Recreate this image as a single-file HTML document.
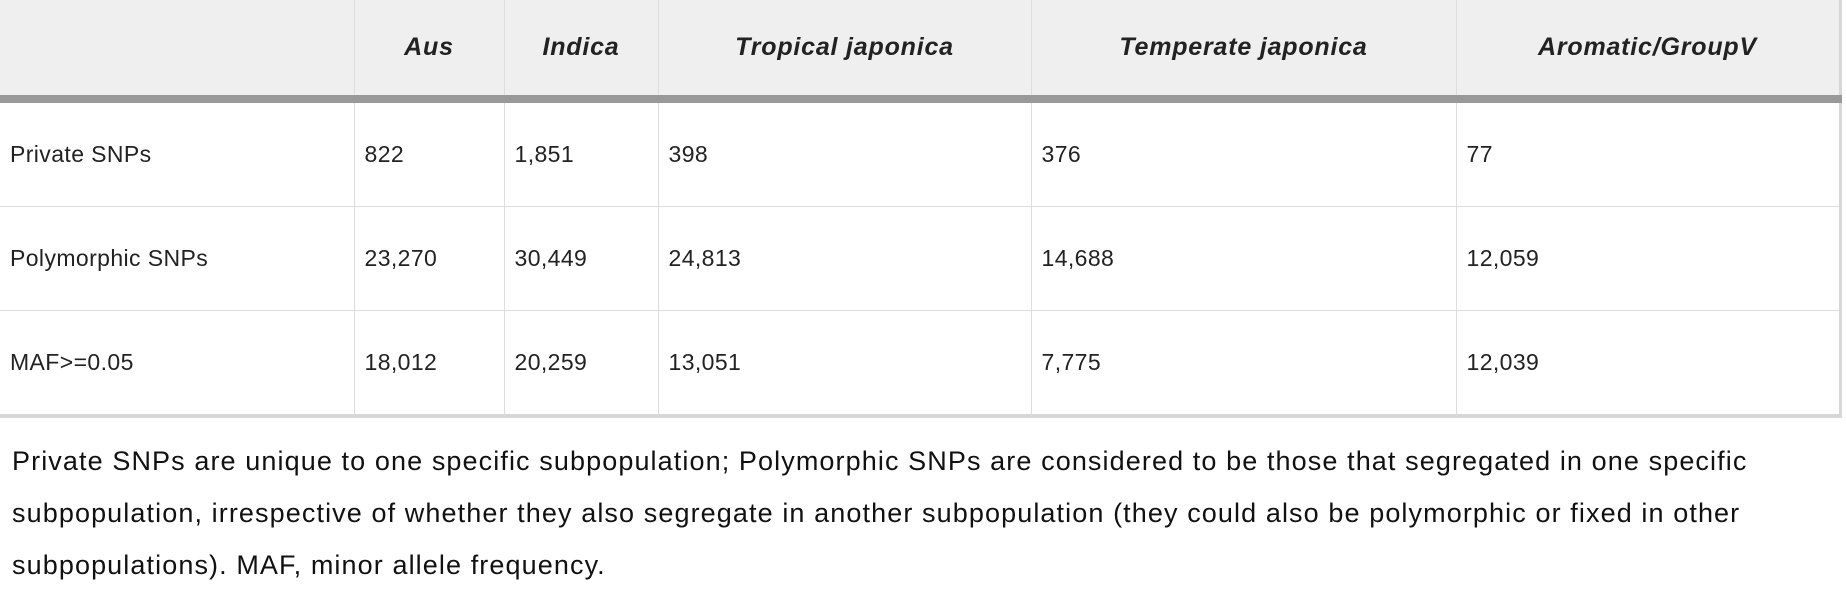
<!DOCTYPE html>
<html><head><meta charset="utf-8"><style>
body{margin:0;width:1846px;height:591px;background:#fff;overflow:hidden;font-family:"Liberation Sans",sans-serif;color:#222}
table{position:absolute;left:0;top:0;border-collapse:collapse;width:1840px;table-layout:fixed}
th{background:#efefef;height:95px;font-weight:bold;font-style:italic;font-size:25px;letter-spacing:0.8px;text-align:center;border-left:1px solid #ddd;border-bottom:8px solid #999;padding:0}
td{height:103px;font-size:23px;letter-spacing:0.4px;padding:0 0 0 10px;border-left:1px solid #ddd;border-top:1px solid #ddd}
tr:last-child td{border-bottom:4px solid #d6d6d6}
td:last-child,th:last-child{border-right:3px solid #d6d6d6}
th:first-child,td:first-child{border-left:none}
.cap{position:absolute;left:12px;top:435px;width:1834px;font-size:27px;letter-spacing:1.1px;line-height:52px;color:#111;white-space:nowrap}
</style></head><body>
<table>
<colgroup><col style="width:354px"><col style="width:150px"><col style="width:154px"><col style="width:373px"><col style="width:425px"><col style="width:384px"></colgroup>
<tr><th></th><th>Aus</th><th>Indica</th><th>Tropical japonica</th><th>Temperate japonica</th><th>Aromatic/GroupV</th></tr>
<tr><td>Private SNPs</td><td>822</td><td>1,851</td><td>398</td><td>376</td><td>77</td></tr>
<tr><td>Polymorphic SNPs</td><td>23,270</td><td>30,449</td><td>24,813</td><td>14,688</td><td>12,059</td></tr>
<tr><td>MAF&gt;=0.05</td><td>18,012</td><td>20,259</td><td>13,051</td><td>7,775</td><td>12,039</td></tr>
</table>
<div class="cap">Private SNPs are unique to one specific subpopulation; Polymorphic SNPs are considered to be those that segregated in one specific<br>subpopulation, irrespective of whether they also segregate in another subpopulation (they could also be polymorphic or fixed in other<br>subpopulations). MAF, minor allele frequency.</div>
</body></html>
